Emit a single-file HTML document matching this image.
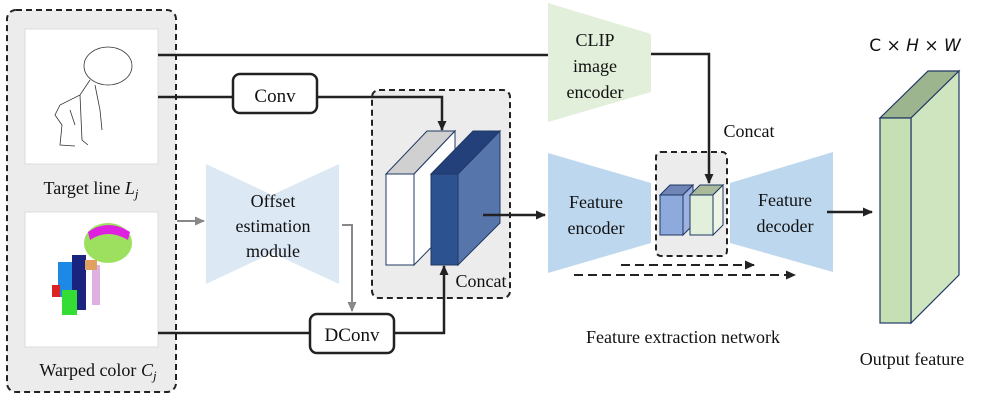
<!DOCTYPE html>
<html><head><meta charset="utf-8"><style>
html,body{margin:0;padding:0;background:#fff;}
svg{display:block;}
text{font-family:"Liberation Serif",serif;fill:#111;}
</style></head><body>
<svg width="996" height="402" viewBox="0 0 996 402" xmlns="http://www.w3.org/2000/svg">
<defs>
<marker id="ab" markerWidth="12" markerHeight="12" refX="9" refY="5" orient="auto" markerUnits="userSpaceOnUse"><path d="M0,0.5 L10,5 L0,9.5z" fill="#222"/></marker>
<marker id="ag" markerWidth="12" markerHeight="12" refX="9" refY="5" orient="auto" markerUnits="userSpaceOnUse"><path d="M0,0.5 L10,5 L0,9.5z" fill="#888"/></marker>
</defs>
<!-- left box -->
<rect x="7" y="10" width="169" height="382" rx="9" fill="#ececec" stroke="#222" stroke-width="2" stroke-dasharray="6,4"/>
<rect x="25" y="29" width="133" height="135" fill="#fff" stroke="#ddd"/>
<rect x="25" y="212" width="133" height="135" fill="#fff" stroke="#ddd"/>
<g fill="none" stroke="#333" stroke-width="0.8">
<ellipse cx="108" cy="66" rx="24" ry="19"/>
<path d="M90,80 L80,95 L60,105 L55,115 L62,125 L60,145 L75,146 M80,95 L82,140 L88,145 M95,85 L100,110 L102,130 M70,110 L75,125"/>
</g>
<ellipse cx="108" cy="243" rx="24" ry="20" fill="#9de060"/>
<path d="M88,232 Q108,218 130,232 L128,240 Q108,228 90,240z" fill="#e020e0"/>
<rect x="72" y="255" width="14" height="55" fill="#1a237e"/>
<rect x="58" y="262" width="14" height="35" fill="#1e88e5"/>
<rect x="62" y="290" width="15" height="25" fill="#33dd33"/>
<rect x="52" y="285" width="8" height="12" fill="#dd2222"/>
<rect x="92" y="265" width="8" height="40" fill="#e0b0e0"/>
<rect x="85" y="260" width="12" height="10" fill="#e0a060"/>
<text x="91" y="194" font-size="18" text-anchor="middle">Target line <tspan font-style="italic">L</tspan><tspan font-style="italic" font-size="13" dy="4">j</tspan></text>
<text x="98" y="376" font-size="18" text-anchor="middle">Warped color <tspan font-style="italic">C</tspan><tspan font-style="italic" font-size="13" dy="4">j</tspan></text>
<!-- offset module -->
<polygon points="206,164 272,195 339,164 339,284 272,253 206,284" fill="#dde8f5"/>
<text x="273" y="207" font-size="18" text-anchor="middle">Offset</text>
<text x="273" y="232" font-size="18" text-anchor="middle">estimation</text>
<text x="273" y="257" font-size="18" text-anchor="middle">module</text>
<line x1="177" y1="221" x2="204" y2="221" stroke="#888" stroke-width="2" marker-end="url(#ag)"/>
<polyline points="342,225 352,225 352,311" fill="none" stroke="#888" stroke-width="2" marker-end="url(#ag)"/>
<!-- concat box -->
<rect x="372" y="90" width="138" height="208" rx="7" fill="#ececec" stroke="#222" stroke-width="2" stroke-dasharray="6,4"/>
<polygon points="386,174 414,174 455,131 427,131" fill="#d0d0d0" stroke="#1f3864" stroke-width="1"/>
<polygon points="414,174 455,131 455,223 414,265" fill="#fff" stroke="#1f3864" stroke-width="1"/>
<rect x="386" y="174" width="28" height="91" fill="#fff" stroke="#1f3864" stroke-width="1"/>
<polygon points="431,174 458,174 500,131 473,131" fill="#23407a" stroke="#1f3864" stroke-width="1"/>
<polygon points="458,174 500,131 500,223 458,265" fill="#5675aa" stroke="#1f3864" stroke-width="1"/>
<rect x="431" y="174" width="27" height="91" fill="#2d5290" stroke="#1f3864" stroke-width="1"/>
<text x="481" y="287" font-size="18" text-anchor="middle">Concat</text>
<!-- main lines -->
<line x1="158" y1="55" x2="548" y2="55" stroke="#222" stroke-width="2.5"/>
<line x1="158" y1="97" x2="233" y2="97" stroke="#222" stroke-width="2.5"/>
<polyline points="317,97 442,97 442,130" fill="none" stroke="#222" stroke-width="2.5" marker-end="url(#ab)"/>
<rect x="233" y="74" width="84" height="39" rx="7" fill="#fff" stroke="#222" stroke-width="2.5"/>
<text x="275" y="102" font-size="19" text-anchor="middle">Conv</text>
<line x1="483" y1="215" x2="545" y2="215" stroke="#222" stroke-width="2.5" marker-end="url(#ab)"/>
<line x1="158" y1="333" x2="310" y2="333" stroke="#222" stroke-width="2.5"/>
<polyline points="394,333 444,333 444,266" fill="none" stroke="#222" stroke-width="2.5" marker-end="url(#ab)"/>
<rect x="310" y="314" width="84" height="39" rx="7" fill="#fff" stroke="#222" stroke-width="2.5"/>
<text x="352" y="341" font-size="19" text-anchor="middle">DConv</text>
<!-- CLIP -->
<polygon points="548,3 651,34 651,92 548,122" fill="#e2efda"/>
<text x="595" y="46" font-size="18" text-anchor="middle">CLIP</text>
<text x="595" y="72" font-size="18" text-anchor="middle">image</text>
<text x="595" y="98" font-size="18" text-anchor="middle">encoder</text>
<text x="749" y="137" font-size="18" text-anchor="middle">Concat</text>
<!-- encoder/decoder -->
<polygon points="548,153 651,183 651,243 548,273" fill="#bdd7ee"/>
<text x="596" y="208" font-size="18" text-anchor="middle">Feature</text>
<text x="596" y="234" font-size="18" text-anchor="middle">encoder</text>
<polygon points="730,183 833,152 833,272 730,243" fill="#bdd7ee"/>
<text x="785" y="206" font-size="18" text-anchor="middle">Feature</text>
<text x="785" y="232" font-size="18" text-anchor="middle">decoder</text>
<rect x="656" y="152" width="71" height="104" rx="5" fill="#ececec" stroke="#222" stroke-width="2" stroke-dasharray="6,4"/>
<polygon points="660,195 683,195 693,185 670,185" fill="#6f85b6" stroke="#1f3864"/>
<polygon points="683,195 693,185 693,225 683,235" fill="#9db2e0" stroke="#1f3864"/>
<rect x="660" y="195" width="23" height="40" fill="#8eaadc" stroke="#1f3864"/>
<polygon points="690,195 713,195 723,185 700,185" fill="#a9b99a" stroke="#1f3864"/>
<polygon points="713,195 723,185 723,225 713,235" fill="#eef5e6" stroke="#1f3864"/>
<rect x="690" y="195" width="23" height="40" fill="#e2efda" stroke="#1f3864"/>
<polyline points="651,54 709,54 709,183" fill="none" stroke="#222" stroke-width="2.5" marker-end="url(#ab)"/>
<line x1="827" y1="212" x2="872" y2="212" stroke="#222" stroke-width="2.5" marker-end="url(#ab)"/>
<line x1="621" y1="265" x2="754" y2="265" stroke="#222" stroke-width="2" stroke-dasharray="9,5" marker-end="url(#ab)"/>
<line x1="574" y1="275" x2="795" y2="275" stroke="#222" stroke-width="2" stroke-dasharray="9,5" marker-end="url(#ab)"/>
<text x="683" y="343" font-size="18" text-anchor="middle">Feature extraction network</text>
<!-- output -->
<polygon points="880,118 911,118 959,71 928,71" fill="#9db58f" stroke="#1f3864" stroke-width="1.2"/>
<polygon points="911,118 959,71 959,275 911,323" fill="#cfe5c0" stroke="#1f3864" stroke-width="1.2"/>
<rect x="880" y="118" width="31" height="205" fill="#c6e0b4" stroke="#1f3864" stroke-width="1.2"/>
<text x="915" y="51" font-size="17" text-anchor="middle" style="font-family:'DejaVu Sans',sans-serif">C × <tspan font-style="italic">H</tspan> × <tspan font-style="italic">W</tspan></text>
<text x="912" y="365" font-size="18" text-anchor="middle">Output feature</text>
</svg>
</body></html>
